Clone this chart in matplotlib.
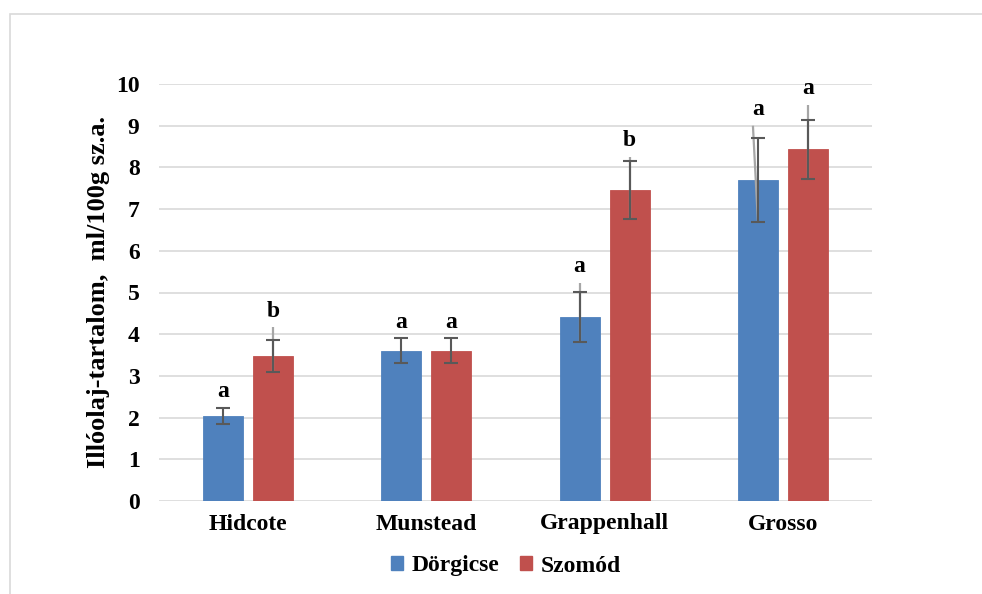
import numpy as np
import matplotlib
matplotlib.use("Agg")
import matplotlib.pyplot as plt
from matplotlib.patches import Rectangle, Patch

# Essential oil content by cultivar and site
cultivars = ["Hidcote", "Munstead", "Grappenhall", "Grosso"]
sites = ["Dörgicse", "Szomód"]
dorgicse = [2.04, 3.60, 4.41, 7.70]
szomod = [3.48, 3.60, 7.46, 8.43]
dorgicse_err = [0.20, 0.30, 0.60, 1.00]
szomod_err = [0.39, 0.30, 0.70, 0.70]
# extra upper whiskers (thin grey), None where absent
dorgicse_hi = [None, None, 5.23, 9.00]
szomod_hi = [4.17, None, 8.26, 9.50]
dorgicse_sig = ["a", "a", "a", "a"]
szomod_sig = ["b", "a", "b", "a"]

plt.rcParams["font.family"] = ["Liberation Serif", "DejaVu Serif"]
plt.rcParams["font.weight"] = "bold"

blue = "#4F81BD"
red = "#C0504D"
err_col = "#595959"
thin_col = "#a6a6a6"

fig = plt.figure(figsize=(9.82, 5.94), dpi=100)
ax = fig.add_axes([159 / 982, 1 - 501 / 594, 713 / 982, 417 / 594])

# light frame around the chart
fig.patches.append(Rectangle((9.5 / 982, -0.05), 1.2, 1 - 14 / 594 + 0.05,
                             transform=fig.transFigure, fill=False,
                             edgecolor="#d9d9d9", lw=1.2))

x = np.arange(len(cultivars))
w = 0.225
off = 0.14
lean = {(0, 3): -0.028}  # the Grosso/Dörgicse thin whisker leans left

series = [
    (x - off, dorgicse, dorgicse_err, dorgicse_hi, dorgicse_sig, blue),
    (x + off, szomod, szomod_err, szomod_hi, szomod_sig, red),
]
for k, (xs, vals, errs, his, sig, col) in enumerate(series):
    ax.bar(xs, vals, w, color=col, edgecolor=col, lw=0.6, zorder=2)
    for i, (xi, v, e, hi, s) in enumerate(zip(xs, vals, errs, his, sig)):
        top = v + e
        if hi is not None:
            dx = lean.get((k, i), 0)
            ax.plot([xi, xi + dx], [v - e, hi], color=thin_col, lw=1.6,
                    zorder=3, solid_capstyle="butt")
            top = max(top, hi)
        ax.errorbar(xi, v, yerr=e, fmt="none", ecolor=err_col, elinewidth=1.5,
                    capsize=5, capthick=1.5, zorder=4)
        ax.annotate(s, (xi, top), xytext=(0, 4), textcoords="offset points",
                    ha="center", va="bottom", fontsize=17, fontweight="bold")

ax.set_ylim(0, 10)
ax.set_xlim(-0.5, 3.5)
ax.set_yticks(range(0, 11))
ax.set_xticks(x)
ax.set_xticklabels(cultivars)
ax.grid(axis="y", color="#d9d9d9", lw=1.2, zorder=0)
ax.set_axisbelow(True)
for sp in ax.spines.values():
    sp.set_visible(False)
ax.tick_params(axis="both", length=0, labelsize=17)
ax.tick_params(axis="y", pad=14)
ax.tick_params(axis="x", pad=9)
for lbl in ax.get_xticklabels() + ax.get_yticklabels():
    lbl.set_fontweight("bold")

ax.set_ylabel("Illóolaj-tartalom,  ml/100g sz.a.", fontsize=19,
              fontweight="bold")
ax.yaxis.set_label_coords(-0.069, 0.5)

handles = [Patch(color=blue), Patch(color=red)]
fig.legend(handles, sites, loc="center", bbox_to_anchor=(506 / 982, 1 - 566 / 594),
           ncol=2, frameon=False, handlelength=0.5, handleheight=0.5,
           handletextpad=0.35, columnspacing=0.9,
           prop={"weight": "bold", "size": 17})

fig.savefig("out.png", dpi=100, facecolor="white")
